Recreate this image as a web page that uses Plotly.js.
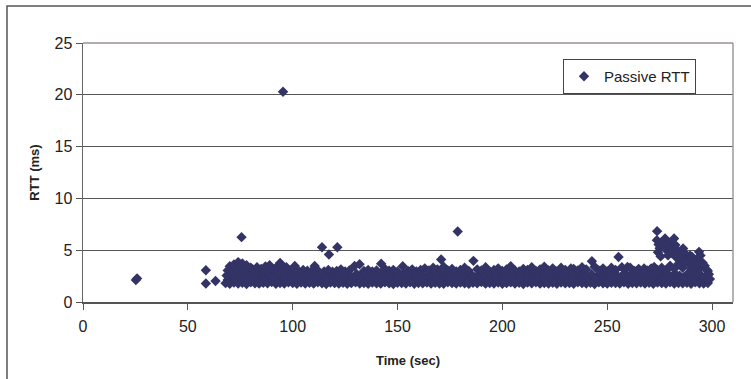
<!DOCTYPE html>
<html>
<head>
<meta charset="utf-8">
<script src="https://cdn.plot.ly/plotly-3.0.1.min.js"></script>
<style>html,body{margin:0;padding:0;background:#fff;}#chart{width:751px;height:379px;}</style>
</head>
<body>
<div id="chart"></div>
<script>
// Sparse early points and outliers
const timeOut = [25.2, 25.8, 58.6, 58.6, 63.2, 75.6, 95.4, 114, 117.3, 121.3, 178.7];
const rttOut  = [2.12, 2.28, 3.07, 1.78, 2.03, 6.26, 20.3, 5.29, 4.58, 5.29, 6.8];

// Dense band, lower row
const timeA = [68,70,72,74,76,78,80,82,84,86,88,90,92,94,96,98,100,102,104,106,108,110,112,114,116,118,120,122,124,126,128,130,132,134,136,138,140,142,144,146,148,150,152,154,156,158,160,162,164,166,168,170,172,174,176,178,180,182,184,186,188,190,192,194,196,198,200,202,204,206,208,210,212,214,216,218,220,222,224,226,228,230,232,234,236,238,240,242,244,246,248,250,252,254,256,258,260,262,264,266,268,270,272,274,276,278,280,282,284,286,288,290,292,294,296,298];
const rttA = [1.82,1.76,1.88,1.79,1.85,1.74,1.90,1.81,1.77,1.86,
1.80,1.92,1.75,1.84,1.78,1.89,1.83,1.76,1.87,1.79,
1.85,1.77,1.91,1.80,1.74,1.88,1.82,1.78,1.86,1.75,
1.83,1.90,1.79,1.84,1.76,1.87,1.81,1.77,1.89,1.80,
1.74,1.86,1.82,1.78,1.91,1.75,1.84,1.80,1.88,1.77,
1.85,1.79,1.76,1.90,1.83,1.78,1.87,1.81,1.75,1.86,
1.80,1.92,1.77,1.84,1.79,1.88,1.76,1.82,1.89,1.78,
1.85,1.74,1.87,1.81,1.90,1.77,1.83,1.79,1.86,1.75,
1.88,1.80,1.84,1.76,1.91,1.82,1.78,1.85,1.74,1.89,
1.81,1.77,1.86,1.83,1.79,1.90,1.75,1.84,1.80,1.87,
1.78,1.85,1.76,1.88,1.82,1.79,1.91,1.77,1.84,1.80,
1.86,1.75,1.89,1.81,1.78,1.83];

// Dense band, middle row
const timeB = [69,71,73,75,77,79,81,83,85,87,89,91,93,95,97,99,101,103,105,107,109,111,113,115,117,119,121,123,125,127,129,131,133,135,137,139,141,143,145,147,149,151,153,155,157,159,161,163,165,167,169,171,173,175,177,179,181,183,185,187,189,191,193,195,197,199,201,203,205,207,209,211,213,215,217,219,221,223,225,227,229,231,233,235,237,239,241,243,245,247,249,251,253,255,257,259,261,263,265,267,269,271,273,275,277,279,281,283,285,287,289,291,293,295,297,299];
const rttB = [2.12,2.25,2.05,2.31,2.18,2.08,2.28,2.15,2.02,2.22,
2.33,2.10,2.19,2.27,2.04,2.16,2.30,2.09,2.24,2.13,
2.06,2.29,2.17,2.21,2.01,2.26,2.14,2.32,2.07,2.20,
2.11,2.28,2.03,2.23,2.17,2.34,2.09,2.25,2.15,2.05,
2.30,2.12,2.19,2.27,2.02,2.22,2.16,2.31,2.08,2.24,
2.13,2.06,2.29,2.18,2.26,2.04,2.21,2.14,2.33,2.10,
2.20,2.27,2.07,2.23,2.15,2.30,2.02,2.19,2.25,2.11,
2.28,2.05,2.17,2.32,2.09,2.24,2.13,2.21,2.06,2.29,
2.16,2.26,2.03,2.22,2.18,2.31,2.08,2.14,2.27,2.12,
2.20,2.05,2.25,2.30,2.10,2.17,2.23,2.07,2.28,2.15,
2.33,2.11,2.19,2.26,2.04,2.21,2.29,2.13,2.24,2.09,
2.18,2.31,2.06,2.27,2.14,2.22];

// Dense band, upper row
const timeC = [68.5,70.5,72.5,74.5,76.5,78.5,80.5,82.5,84.5,86.5,88.5,90.5,92.5,94.5,96.5,98.5,100.5,102.5,104.5,106.5,108.5,110.5,112.5,114.5,116.5,118.5,120.5,122.5,124.5,126.5,128.5,130.5,132.5,134.5,136.5,138.5,140.5,142.5,144.5,146.5,148.5,150.5,152.5,154.5,156.5,158.5,160.5,162.5,164.5,166.5,168.5,170.5,172.5,174.5,176.5,178.5,180.5,182.5,184.5,186.5,188.5,190.5,192.5,194.5,196.5,198.5,200.5,202.5,204.5,206.5,208.5,210.5,212.5,214.5,216.5,218.5,220.5,222.5,224.5,226.5,228.5,230.5,232.5,234.5,236.5,238.5,240.5,242.5,244.5,246.5,248.5,250.5,252.5,254.5,256.5,258.5,260.5,262.5,264.5,266.5,268.5,270.5,272.5,274.5,276.5,278.5,280.5,282.5,284.5,286.5,288.5,290.5,292.5,294.5,296.5,298.5];
const rttC = [2.55,2.72,2.41,2.66,2.80,2.48,2.62,2.38,2.75,2.52,
2.69,2.44,2.83,2.58,2.36,2.71,2.50,2.64,2.78,2.42,
2.60,2.85,2.46,2.68,2.39,2.74,2.53,2.81,2.45,2.63,
2.37,2.70,2.56,2.79,2.43,2.67,2.51,2.84,2.40,2.61,
2.76,2.47,2.65,2.38,2.73,2.54,2.82,2.44,2.59,2.70,
2.41,2.77,2.52,2.66,2.36,2.80,2.49,2.63,2.75,2.43,
2.58,2.84,2.46,2.69,2.39,2.72,2.55,2.81,2.42,2.64,
2.37,2.78,2.51,2.67,2.45,2.83,2.57,2.40,2.71,2.60,
2.48,2.76,2.38,2.65,2.53,2.80,2.44,2.69,2.36,2.74,
2.56,2.82,2.47,2.62,2.41,2.77,2.50,2.68,2.39,2.73,
2.59,2.85,2.43,2.66,2.52,2.79,2.46,2.70,2.55,2.38,
2.75,2.49,2.81,2.63,2.42,2.68];

// Scattered points above the band
const timeD = [69,70,71,72,73,74,75,76,77,78,79,80,81,82,83,84,85,86,87,88,89,90,91,92,93,94,95,96,97,98,99,101,103,105,107,109,110.5,112,115,117,119,121,123,125,127,129.5,131.9,134,136,138,140,142.2,144,146,148,150,152.5,155,157,159,161,163,165,167,169,170.8,172,174,176,178,180,182,184,186.2,188,190,192,194,196,198,200,202,204,206,208,210,212,214,216,218,220,222,224,226,228,230,232.7,234,236,238,240,242.7,244,246,248,250,252,254,255.4,257,259.7,261,263,265,267.6,269,271,272.4,274,276,278,280,282,284,286,288,290,292,294,296,298];
const rttD = [3.05,3.45,2.95,3.62,3.20,3.85,3.40,3.72,3.10,3.55,3.00,3.30,3.15,3.05,3.35,2.98,3.20,3.10,3.42,3.02,3.55,3.25,3.08,3.30,3.00,3.77,3.50,3.20,3.35,3.05,2.95,3.48,2.95,3.10,3.02,2.98,3.48,3.05,2.95,3.10,2.92,3.00,3.15,2.95,3.05,3.48,3.65,3.00,3.10,2.95,3.05,3.70,3.20,3.02,3.10,2.95,3.45,3.00,3.15,2.95,3.10,3.25,3.05,3.30,3.15,4.10,3.40,3.05,3.20,2.95,3.10,3.30,3.00,3.97,3.15,3.05,3.35,2.95,3.10,3.25,3.00,3.15,3.45,3.05,2.95,3.20,3.10,3.35,3.00,3.15,3.40,3.05,3.25,2.95,3.30,3.10,3.23,3.20,3.05,3.35,3.15,3.94,3.40,3.05,3.25,2.95,3.30,3.10,4.35,3.35,3.39,3.30,3.00,3.20,3.23,3.05,3.25,3.39,3.10,3.30,3.05,3.50,3.20,3.70,3.30,3.90,3.50,3.75,3.20,3.40,3.00];

// Elevated cluster near the end
const timeE = [273.8,273.7,274.5,275,274.2,275.5,276,277.6,278,278.5,279,279.5,280.5,281.9,281,282.5,283,283.5,284.5,286.2,285.5,287,288.5,289.5,290.5,291.5,293.8,293,294.5,295.5,296.5,297.5,285,287.5,290,292.5];
const rttE = [6.84,5.97,5.55,5.20,4.80,4.40,5.80,6.13,5.45,4.95,4.50,5.70,5.15,6.13,4.70,5.50,4.30,5.00,4.60,5.16,4.20,4.70,4.10,4.50,4.35,3.95,4.84,4.20,4.50,3.80,3.50,3.10,3.60,3.90,3.20,3.60];

const seriesName = "Passive RTT";
const xTicks = [0, 50, 100, 150, 200, 250, 300];
const yTicks = [0, 5, 10, 15, 20, 25];

const time = [].concat(timeOut, timeA, timeB, timeC, timeD, timeE);
const rtt = [].concat(rttOut, rttA, rttB, rttC, rttD, rttE);

const trace = {
  x: time, y: rtt, type: "scatter", mode: "markers", name: seriesName,
  marker: {symbol: "diamond", size: 8, color: "#333366", line: {width: 0}}
};

const L = 83, R = 733, T = 43, B = 301.7;
const px = v => (v - L) / (R - L);
const py = v => (B - v) / (B - T);

const layout = {
  width: 751, height: 379,
  margin: {l: L, r: 751 - R, t: T, b: 379 - B},
  paper_bgcolor: "#fff", plot_bgcolor: "#fff",
  font: {family: "Liberation Sans, Arial, sans-serif", color: "#222"},
  showlegend: true,
  legend: {x: px(563), y: py(59), xanchor: "left", yanchor: "top",
    bgcolor: "#fff", bordercolor: "#444", borderwidth: 1,
    font: {size: 15, family: "Liberation Sans, Arial, sans-serif", color: "#222"}},
  xaxis: {range: [0, 310], tickvals: xTicks, ticktext: xTicks.map(String),
    showgrid: false, zeroline: false, showline: true, linecolor: "#555", linewidth: 1.5,
    ticks: "outside", ticklen: 6, tickcolor: "#555", tickwidth: 1,
    ticklabelstandoff: 3,
    tickfont: {size: 16, color: "#222"},
    title: {text: "<b>Time (sec)</b>", font: {size: 13, color: "#222"}, standoff: 22}},
  yaxis: {range: [0, 25], tickvals: yTicks, ticktext: yTicks.map(String),
    showgrid: true, gridcolor: "#555", gridwidth: 1, zeroline: false,
    showline: true, linecolor: "#666", linewidth: 1.5,
    ticks: "outside", ticklen: 6, tickcolor: "#555", tickwidth: 1,
    ticklabelstandoff: 0,
    tickfont: {size: 16, color: "#222"},
    title: {text: "<b>RTT (ms)</b>", font: {size: 13, color: "#222"}, standoff: 12}},
  shapes: [
    {type: "line", xref: "paper", yref: "paper", x0: 0, x1: 1, y0: 1, y1: 1, line: {color: "#9a9090", width: 1.5}},
    {type: "line", xref: "paper", yref: "paper", x0: 1, x1: 1, y0: 0, y1: 1, line: {color: "#a09a9a", width: 1.5}},
    {type: "rect", xref: "paper", yref: "paper", x0: px(7), x1: px(790), y0: py(420), y1: py(6), line: {color: "#555", width: 1.5}, layer: "below"}
  ]
};

Plotly.newPlot("chart", [trace], layout, {displayModeBar: false, staticPlot: true});
</script>
</body>
</html>
